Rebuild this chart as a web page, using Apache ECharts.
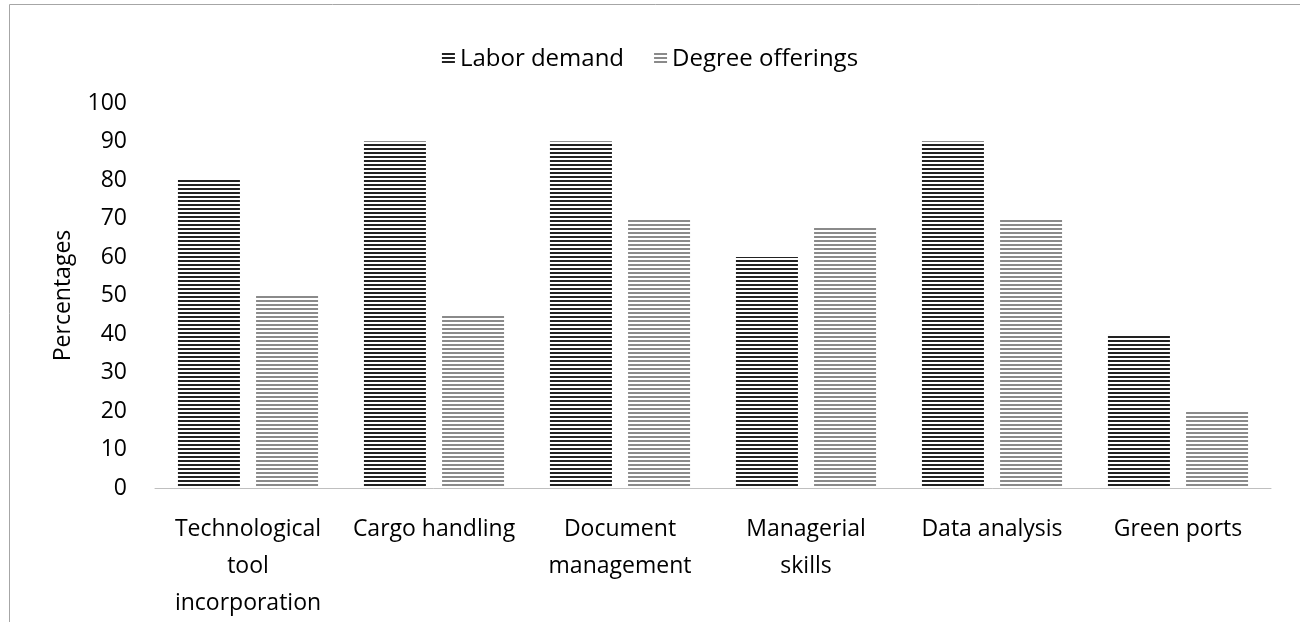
<!DOCTYPE html>
<html>
<head>
<meta charset="utf-8">
<script src="https://cdn.jsdelivr.net/npm/echarts@6/dist/echarts.min.js"></script>
<style>
  html, body { margin: 0; padding: 0; background: #fff; }
  #chart { width: 1300px; height: 622px; }
</style>
</head>
<body>
<div id="chart"></div>
<script>
// categories and values
const categories = ['Technological\ntool\nincorporation', 'Cargo handling', 'Document\nmanagement', 'Managerial\nskills', 'Data analysis', 'Green ports']
const laborDemand = [80, 90, 90, 60, 90, 40]
const degreeOfferings = [50, 45, 70, 68, 70, 20]
const yTicks = [0, 10, 20, 30, 40, 50, 60, 70, 80, 90, 100]

// horizontal stripe fill, like the Excel pattern
function stripes(color) {
  const c = document.createElement('canvas')
  c.width = 4
  c.height = 4
  const ctx = c.getContext('2d')
  ctx.fillStyle = '#fff'
  ctx.fillRect(0, 0, 4, 4)
  ctx.fillStyle = color
  ctx.fillRect(0, 0, 4, 2)
  return { image: c, repeat: 'repeat' }
}

const font = '"Open Sans", "Noto Sans", sans-serif'

let option = {
  animation: false,
  graphic: [
    {
      type: 'rect',
      shape: { x: 9.5, y: 4.5, width: 1400, height: 700 },
      style: { fill: 'none', stroke: '#a6a6a6', lineWidth: 1 },
    },
  ],
  legend: {
    top: 42,
    left: 'center',
    itemWidth: 13,
    itemHeight: 12,
    itemGap: 30,
    icon: 'rect',
    textStyle: { fontFamily: font, fontSize: 24, color: '#000' },
    data: ['Labor demand', 'Degree offerings'],
  },
  grid: {
    left: 155,
    right: 29,
    top: 103,
    bottom: 131,
    containLabel: false,
  },
  xAxis: {
    type: 'category',
    data: categories,
    axisLine: { lineStyle: { color: '#bfbfbf', width: 1 } },
    axisTick: { show: false },
    axisLabel: {
      interval: 0,
      margin: 23,
      fontFamily: font,
      fontSize: 23,
      lineHeight: 37,
      color: '#000',
    },
  },
  yAxis: {
    type: 'value',
    min: yTicks[0],
    max: yTicks[yTicks.length - 1],
    interval: 10,
    name: 'Percentages',
    nameLocation: 'middle',
    nameGap: 80,
    nameTextStyle: { fontFamily: font, fontSize: 23, color: '#000' },
    axisLine: { show: false },
    axisTick: { show: false },
    splitLine: { show: false },
    axisLabel: { fontFamily: font, fontSize: 23, color: '#000', margin: 28 },
  },
  series: [
    {
      name: 'Labor demand',
      type: 'bar',
      barWidth: 62,
      barGap: '26%',
      itemStyle: { color: stripes('#222222') },
      data: laborDemand,
    },
    {
      name: 'Degree offerings',
      type: 'bar',
      barWidth: 62,
      itemStyle: { color: stripes('#8a8a8a') },
      data: degreeOfferings,
    },
  ],
}

let myChart = echarts.init(document.getElementById('chart'))
myChart.setOption(option)
</script>
</body>
</html>
